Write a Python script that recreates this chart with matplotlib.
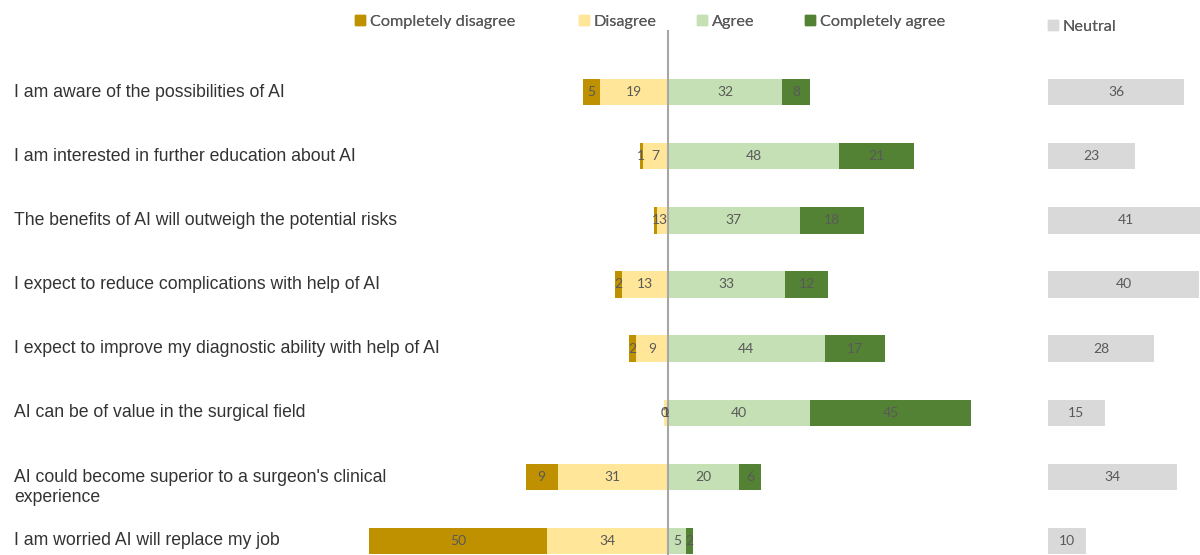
import matplotlib.pyplot as plt
import matplotlib.transforms as mtransforms
from matplotlib.patches import Patch

# survey statements (top to bottom)
statements = [
    "I am aware of the possibilities of AI",
    "I am interested in further education about AI",
    "The benefits of AI will outweigh the potential risks",
    "I expect to reduce complications with help of AI",
    "I expect to improve my diagnostic ability with help of AI",
    "AI can be of value in the surgical field",
    "AI could become superior to a surgeon's clinical\nexperience",
    "I am worried AI will replace my job",
]
completely_disagree = [5, 1, 1, 2, 2, 0, 9, 50]
disagree = [19, 7, 3, 13, 9, 1, 31, 34]
agree = [32, 48, 37, 33, 44, 40, 20, 5]
completely_agree = [8, 21, 18, 12, 17, 45, 6, 2]
neutral = [36, 23, 41, 40, 28, 15, 34, 10]

c_cd = '#BF9000'
c_d = '#FFE699'
c_a = '#C5E0B4'
c_ca = '#548235'
c_n = '#D9D9D9'
lab_col = '#595959'
lab_font = 'Lato'

W, H = 1200, 555
fig = plt.figure(figsize=(12, 5.55), dpi=100)

top = 1 - 30 / H
ax = fig.add_axes([360 / W, 0, 640 / W, top])
axn = fig.add_axes([1048 / W, 0, 152 / W, top])

ppu = 3.56  # pixels per unit on main axis
ax.set_xlim(-(668 - 360) / ppu, (1000 - 668) / ppu)
axn.set_xlim(0, 152 / 3.78)
for a in (ax, axn):
    a.set_ylim(7.22, -0.97)
    a.axis('off')

y = list(range(len(statements)))
h = 0.41

neg_d = [-v for v in disagree]
neg_cd = [-(d + c) for d, c in zip(disagree, completely_disagree)]
b1 = ax.barh(y, neg_d, height=h, color=c_d)
b0 = ax.barh(y, completely_disagree, left=neg_cd, height=h, color=c_cd)
b2 = ax.barh(y, agree, height=h, color=c_a)
b3 = ax.barh(y, completely_agree, left=agree, height=h, color=c_ca)
bn = axn.barh(y, neutral, height=h, color=c_n)

for bars, vals in [(b0, completely_disagree), (b1, disagree), (b2, agree), (b3, completely_agree)]:
    for r, v in zip(bars, vals):
        cx = r.get_x() + r.get_width() / 2
        ax.text(cx, r.get_y() + r.get_height() / 2, str(v), ha='center', va='center',
                fontsize=10, color=lab_col, family=lab_font)
for r, v in zip(bn, neutral):
    axn.text(r.get_width() / 2, r.get_y() + r.get_height() / 2, str(v), ha='center', va='center',
             fontsize=10, color=lab_col, family=lab_font)

ax.axvline(0, color='#A6A6A6', lw=1.5)

# category labels
tr = mtransforms.blended_transform_factory(fig.transFigure, ax.transData)
for yi, s in zip(y, statements):
    off = 0.17 if '\n' in s else 0
    ax.text(14 / W, yi + off, s, transform=tr, ha='left', va='center', fontsize=12.7,
            family='Liberation Sans', color='#333333', linespacing=1.2, clip_on=False)

# legend entries placed one by one, like the original
names = ['Completely disagree', 'Disagree', 'Agree', 'Completely agree', 'Neutral']
colors = [c_cd, c_d, c_a, c_ca, c_n]
xpos = [355, 579, 697, 805, 1048]
ypos = [22, 22, 22, 22, 27]
for name, col, xp, yp in zip(names, colors, xpos, ypos):
    leg = fig.legend([Patch(color=col)], [name], loc='center left',
                     bbox_to_anchor=(xp / W, 1 - yp / H), frameon=False,
                     borderpad=0, borderaxespad=0, handlelength=0.6, handleheight=0.6,
                     handletextpad=0.3, prop={'family': lab_font, 'size': 11.7},
                     labelcolor=lab_col)
    fig.add_artist(leg)

fig.savefig('out.png', dpi=100)
